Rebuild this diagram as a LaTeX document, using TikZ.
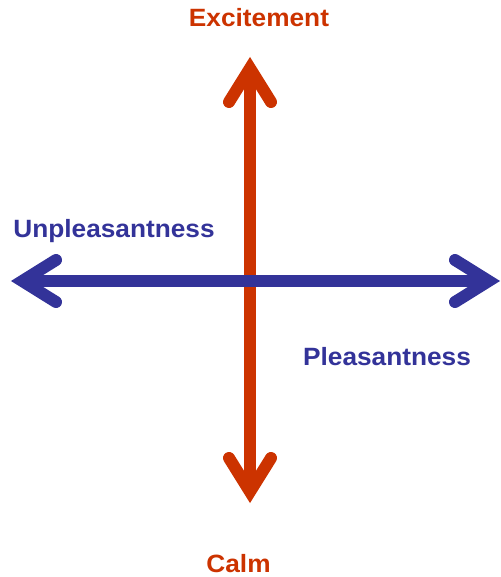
\documentclass[tikz,border=0pt]{standalone}
\usepackage{fontspec}
\setmainfont{Liberation Sans}
\definecolor{axred}{HTML}{CC3300}
\definecolor{axblue}{HTML}{333399}
\newcommand{\wide}[1]{\scalebox{1.05}[1]{#1}}
\begin{document}
\begin{tikzpicture}[x=1pt,y=-1pt,
  shaft/.style={line width=12pt,line cap=butt},
  head/.style={line width=12pt,line cap=round,line join=miter},
  lbl/.style={anchor=base,inner sep=0pt,font=\bfseries\fontsize{25}{28}\selectfont}]
\useasboundingbox (0,0) rectangle (500,577);
% vertical axis
\coordinate (vt) at (250,68.3);
\coordinate (vb) at (250,491.7);
\draw[shaft,axred] (vt) -- (vb);
\draw[head,axred] (229,102) -- (vt) -- (271,102);
\draw[head,axred] (229,458) -- (vb) -- (271,458);
% horizontal axis
\coordinate (hl) at (22.3,281);
\coordinate (hr) at (488.7,281);
\draw[shaft,axblue] (hl) -- (hr);
\draw[head,axblue] (56,260) -- (hl) -- (56,302);
\draw[head,axblue] (455,260) -- (hr) -- (455,302);
% labels
\node[lbl,axred] (exc) at (259,27) {\wide{Excitement}};
\node[lbl,axred] (calm) at (238.5,572) {\wide{Calm}};
\node[lbl,axblue] (unp) at (114,237) {\wide{Unpleasantness}};
\node[lbl,axblue] (ple) at (387,365) {\wide{Pleasantness}};
\end{tikzpicture}
\end{document}
